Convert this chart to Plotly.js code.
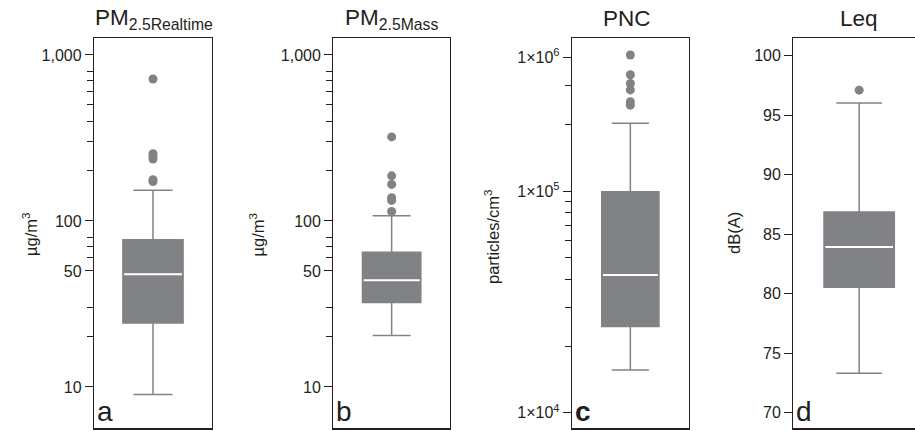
<!DOCTYPE html>
<html><head><meta charset="utf-8">
<script src="https://cdn.plot.ly/plotly-3.0.1.min.js"></script>
<style>html,body{margin:0;padding:0;overflow:hidden;background:#fff;width:915px;height:431px}</style>
</head><body><div id="chart" style="width:935px;height:431px"></div>
<script>
// ---- data ----
const panelTitles = ['PM<sub>2.5Realtime</sub>', 'PM<sub>2.5Mass</sub>', 'PNC', 'Leq'];
const panelLetters = ['a', 'b', '<b>c</b>', 'd'];
const axisTitles = ['µg/m<sup>3</sup>', 'µg/m<sup>3</sup>', 'particles/cm<sup>3</sup>', 'dB(A)'];

const q1Values     = [24.3, 32.3, 24500, 80.54];
const medianValues = [47.7, 43.9, 41900, 83.92];
const q3Values     = [77.0, 64.7, 99500, 86.87];
const lowerWhisker = [9.0, 20.4, 15600, 73.31];
const upperWhisker = [153, 107.6, 203000, 96.03];

const realtimeOutliers = [716, 254, 245, 236, 177, 173];
const massOutliers     = [321, 187, 166, 138, 133, 114];
const pncOutliers      = [412600, 336000, 307000, 287000, 254000, 245000];
const leqOutliers      = [97.1];

// tick labels as printed in the reference
const pmTickVals  = [10, 50, 100, 1000];
const pmTickText  = ['10', '50', '100', '1,000'];
const pmMinorVals = [20, 30, 60, 70, 80, 200, 300, 400, 500, 600, 700, 800];
const pncTickVals = [1e4, 1e5, 4.04e5];
const pncTickText = ['1×10<sup>4</sup>', '1×10<sup>5</sup>', '1×10<sup>6</sup>'];
const pncMinorVals = [2e4, 3e4, 4e4, 5e4, 6e4, 7e4, 8e4, 9e4, 2e5, 3e5];
const leqTickVals = [70, 75, 80, 85, 90, 95, 100];

// ---- build ----
const W = 935, H = 431;
const GRAY = '#808285', INK = '#231f20';
const FONT = 'Liberation Sans, Arial, Helvetica, sans-serif';
const outliers = [realtimeOutliers, massOutliers, pncOutliers, leqOutliers];
const xDom = [[94, 212], [333.3, 450], [572, 688.7], [793.3, 925]];
const boxW = [0.51, 0.5, 0.49, 0.534];
const yTop = 37.7, yBot = 428.3;
const yDomain = [(H - yBot) / H, (H - yTop) / H];

const traces = [];
const layout = {
  width: W, height: H, margin: {l: 0, r: 0, t: 0, b: 0},
  paper_bgcolor: '#fff', plot_bgcolor: '#fff', showlegend: false,
  boxmode: 'overlay', font: {family: FONT, color: INK, size: 16},
  annotations: []
};

for (let i = 0; i < 4; i++) {
  const sfx = i === 0 ? '' : String(i + 1);
  const xa = 'x' + sfx, ya = 'y' + sfx;
  traces.push({
    type: 'box', x: [0], xaxis: xa, yaxis: ya,
    q1: [q1Values[i]], median: [medianValues[i]], q3: [q3Values[i]],
    lowerfence: [lowerWhisker[i]], upperfence: [upperWhisker[i]],
    fillcolor: GRAY, line: {color: GRAY, width: 1.5},
    width: boxW[i], whiskerwidth: 0.65, boxpoints: false, hoverinfo: 'y'
  });
  traces.push({
    type: 'box', x: [0], xaxis: xa, yaxis: ya,
    q1: [medianValues[i]], median: [medianValues[i]], q3: [medianValues[i]],
    lowerfence: [medianValues[i]], upperfence: [medianValues[i]],
    fillcolor: 'rgba(0,0,0,0)', line: {color: '#ffffff', width: 2},
    width: boxW[i] - 0.02, whiskerwidth: 0, boxpoints: false, hoverinfo: 'skip'
  });
  traces.push({
    type: 'scatter', mode: 'markers', xaxis: xa, yaxis: ya,
    x: outliers[i].map(() => 0), y: outliers[i],
    marker: {color: GRAY, size: 9}, hoverinfo: 'y'
  });

  layout['xaxis' + sfx] = {
    domain: [xDom[i][0] / W, xDom[i][1] / W], range: [-0.5, 0.5], anchor: ya,
    showline: true, mirror: true, linecolor: INK, linewidth: 1.2,
    showticklabels: false, ticks: '', showgrid: false, zeroline: false, fixedrange: true
  };
  const yax = {
    domain: yDomain, anchor: xa, showline: true, mirror: true, linecolor: INK, linewidth: 1.2,
    ticks: 'outside', ticklen: 8, tickcolor: INK, tickwidth: 1,
    showgrid: false, zeroline: false, fixedrange: true,
    tickfont: {family: FONT, size: 16, color: INK}, tickmode: 'array'
  };
  if (i < 2) {
    Object.assign(yax, {type: 'log', range: [0.751, 3.104], tickvals: pmTickVals, ticktext: pmTickText,
      minor: {tickmode: 'array', tickvals: pmMinorVals, ticks: 'outside', ticklen: 6, tickcolor: INK, showgrid: false}});
  } else if (i === 2) {
    Object.assign(yax, {type: 'log', range: [3.9295, 5.6938], tickvals: pncTickVals, ticktext: pncTickText,
      minor: {tickmode: 'array', tickvals: pncMinorVals, ticks: 'outside', ticklen: 6, tickcolor: INK, showgrid: false}});
  } else {
    Object.assign(yax, {type: 'linear', range: [68.69, 101.51], tickvals: leqTickVals,
      ticktext: leqTickVals.map(String)});
  }
  layout['yaxis' + sfx] = yax;
}

const titleX = [153.5, 391, 627, 858.7];
const axTitleX = [30, 257.5, 492, 734];
const axTitleY = [235, 235, 237, 233];
for (let i = 0; i < 4; i++) {
  layout.annotations.push({
    xref: 'paper', yref: 'paper', x: titleX[i] / W, y: 1 - 19 / H,
    xanchor: 'center', yanchor: 'middle', showarrow: false,
    text: panelTitles[i], font: {family: FONT, size: 22.5, color: INK}
  });
  layout.annotations.push({
    xref: 'paper', yref: 'paper', x: axTitleX[i] / W, y: 1 - axTitleY[i] / H,
    xanchor: 'center', yanchor: 'middle', showarrow: false, textangle: -90,
    text: axisTitles[i], font: {family: FONT, size: 16.5, color: INK}
  });
  layout.annotations.push({
    xref: 'paper', yref: 'paper', x: (xDom[i][0] + 1) / W, y: 1 - 411 / H,
    xanchor: 'left', yanchor: 'middle', showarrow: false,
    text: panelLetters[i], font: {family: FONT, size: 28, color: INK}
  });
}

Plotly.newPlot('chart', traces, layout, {staticPlot: true, displayModeBar: false});
</script></body></html>
